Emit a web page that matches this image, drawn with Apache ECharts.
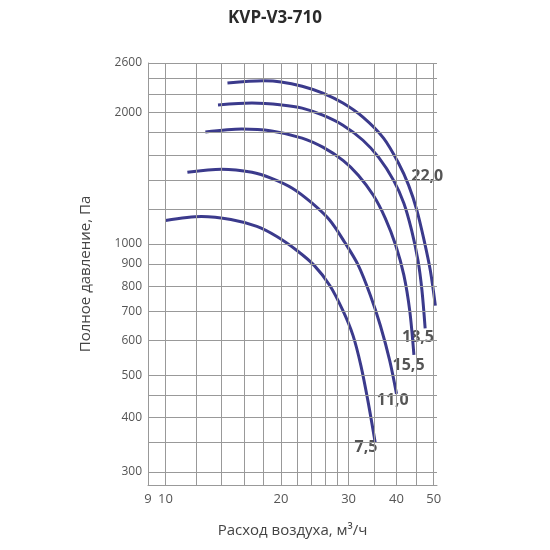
<!DOCTYPE html>
<html><head><meta charset="utf-8">
<script src="https://cdn.jsdelivr.net/npm/echarts@6/dist/echarts.min.js"></script>
<style>html,body{margin:0;padding:0;background:#fff}#c{width:550px;height:550px}</style>
</head><body><div id="c"></div>
<script>
const curve75 = [[10,1132],[12.4,1156],[14.8,1138],[17.3,1097],[19.5,1040],[22,966],[24.4,893],[26.8,803],[29,703],[30.8,617],[32.3,526],[33.7,436],[35.2,350]];
const curve110 = [[11.4,1460],[14,1484],[16.8,1460],[18.9,1414],[21.4,1342],[24.1,1240],[26.8,1133],[29.3,1009],[31.8,893],[34.2,762],[36.3,650],[38.4,540],[40,453]];
const curve155 = [[12.7,1805],[15.8,1834],[18.9,1815],[22.7,1749],[25.7,1667],[29,1555],[31.8,1438],[34.8,1293],[37.4,1145],[39.8,993],[41.8,848],[43.3,703],[44.4,557]];
const curve185 = [[13.7,2083],[16.8,2104],[20.1,2083],[22.7,2049],[25.7,1974],[29,1872],[32.7,1729],[35.9,1581],[39.3,1399],[41.8,1240],[43.8,1074],[45.5,916],[46.6,782],[47.5,640]];
const curve220 = [[14.5,2340],[18,2366],[20,2353],[22.7,2300],[25.7,2218],[29,2104],[32.7,1953],[37,1748],[40.5,1531],[43,1364],[45.2,1194],[47.2,1019],[49,869],[50.5,722]];
const curveNames = ['7,5','11,0','15,5','18,5','22,0'];
const labelPos = [[33.3,342],[39.1,437],[43.0,527],[45.5,611],[48.1,1427]];
const yGrid = [300,350,400,450,500,600,700,800,900,1000,1200,1400,1600,1800,2000,2200,2400,2600];
const yTickLabels = [300,400,500,600,700,800,900,1000,2000,2600];
const xGrid = [9,10,12,14,16,18,20,22,24,26,28,30,35,40,45,50];
const xTickLabels = [9,10,20,30,40,50];

const lineColor = '#3b3a8c';
const curves = [curve75,curve110,curve155,curve185,curve220];
const series = curves.map((d,i)=>({type:'line',name:curveNames[i],data:d,smooth:0.3,showSymbol:false,
  lineStyle:{color:lineColor,width:3},silent:true}));
series.push({type:'scatter',data:labelPos.map((p,i)=>({value:p,name:curveNames[i]})),symbolSize:0,
  label:{show:true,position:'inside',formatter:p=>p.name,fontFamily:'Open Sans',fontWeight:'bold',fontSize:16,color:'#2a2a2a'},silent:true});
series.push({type:'line',data:[],markLine:{silent:true,symbol:'none',animation:false,
  lineStyle:{color:'#999',width:1,type:'solid'},
  data:[...yGrid.map(v=>({yAxis:v,label:{show:true,position:'start',distance:6,color:'#555',fontSize:12,fontFamily:'Open Sans',
      formatter:yTickLabels.includes(v)?String(v):''}})),
    ...xGrid.map(v=>({xAxis:v,label:{show:true,position:'start',distance:8,color:'#555',fontSize:13,fontFamily:'Open Sans',
      formatter:xTickLabels.includes(v)?String(v):''}}))]}});

const chart = echarts.init(document.getElementById('c'));
chart.setOption({
  animation:false,
  title:{text:'KVP-V3-710',left:'center',top:5,textStyle:{fontFamily:'Open Sans',fontWeight:'bold',fontSize:17,color:'#2a2a2a'}},
  grid:{left:148,right:113,top:63,bottom:65},
  xAxis:{type:'log',min:9,max:51,axisLabel:{show:false},axisTick:{show:false},splitLine:{show:false},minorSplitLine:{show:false},
    axisLine:{show:true,lineStyle:{color:'#999'}},
    name:'Расход воздуха, м³/ч',nameLocation:'middle',nameGap:38,nameTextStyle:{fontFamily:'Open Sans',fontSize:15,color:'#444'}},
  yAxis:{type:'log',min:280,max:2600,axisLabel:{show:false},axisTick:{show:false},splitLine:{show:false},
    axisLine:{show:true,lineStyle:{color:'#999'}},
    name:'Полное давление, Па',nameLocation:'middle',nameGap:55,nameTextStyle:{fontFamily:'Open Sans',fontSize:15,color:'#444'}},
  series
});
</script></body></html>
